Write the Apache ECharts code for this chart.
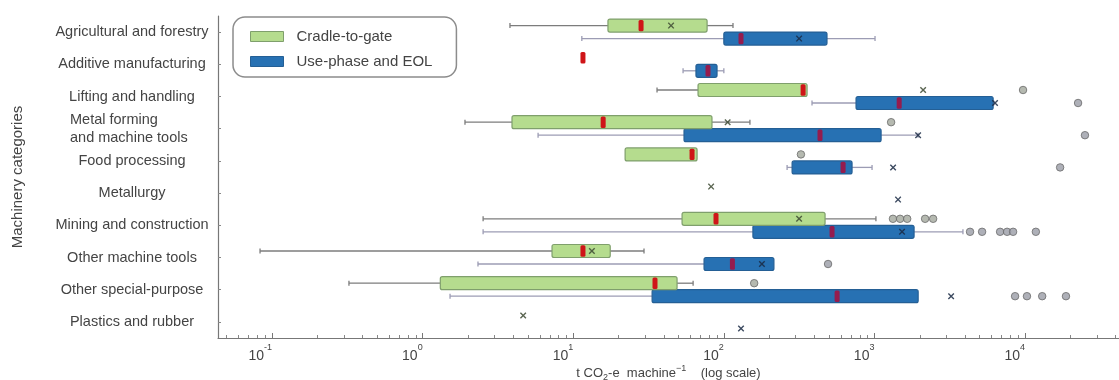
<!DOCTYPE html>
<html><head><meta charset="utf-8">
<script src="https://cdn.jsdelivr.net/npm/echarts@6/dist/echarts.min.js"></script>
<style>html,body{margin:0;padding:0;background:#fff}#c{width:1119px;height:380px}</style>
</head><body><div id="c"></div>
<script>
// ---------------- data ----------------
const categories = [
  'Agricultural and forestry', 'Additive manufacturing', 'Lifting and handling',
  'Metal forming\nand machine tools', 'Food processing', 'Metallurgy',
  'Mining and construction', 'Other machine tools', 'Other special-purpose',
  'Plastics and rubber'
];
// [whiskerLow, Q1, median, Q3, whiskerHigh]; null = no box
const cradleBox = [
  [3.8, 17.0, 28.2, 77.4, 115],
  [11.6, 11.6, 11.6, 11.6, 11.6],
  [36.0, 67.4, 336, 357, 357],
  [1.91, 3.92, 15.8, 83.4, 149],
  [22.1, 22.1, 61.5, 66.4, 66.4],
  null,
  [2.52, 52.8, 88.7, 470, 1023],
  [0.0832, 7.23, 11.6, 17.6, 29.5],
  [0.324, 1.31, 34.9, 48.9, 62.5],
  null
];
const cradleMean = [44.6, null, 2105, 106, null, 82.3, 316, 13.3, null, 4.65];
const cradleOutliers = [[], [], [9700], [1290], [325], [], [1327, 1480, 1650, 2170, 2453], [], [159], []];

const useBox = [
  [11.4, 100, 130, 484, 1009],
  [53.6, 65.3, 78.5, 90.1, 100],
  [385, 755, 1460, 6140, 6200],
  [5.84, 54.4, 435, 1107, 1950],
  [263, 284, 619, 710, 964],
  null,
  [2.52, 156, 523, 1833, 3870],
  [2.33, 73.9, 114, 215, 215],
  [1.52, 33.4, 565, 1951, 1951],
  null
];
const useMean = [316, null, 6320, 1950, 1330, 1435, 1525, 179, 3230, 130];
const useOutliers = [[], [], [22500], [25000], [17100], [], [4313, 5186, 6830, 7600, 8330, 11800], [492], [8590, 10300, 13000, 18700], []];

const tickExponents = [-1, 0, 1, 2, 3, 4];
const minorMantissas = [2, 3, 4, 5, 6, 7, 8, 9];
const axisMin = 0.04375, axisMax = 42070;

// ---------------- build ----------------
const majorTicks = tickExponents.map(e => Math.pow(10, e));
const minorTicks = [];
[-2, -1, 0, 1, 2, 3, 4].forEach(e => minorMantissas.forEach(m => {
  const v = m * Math.pow(10, e);
  if (v > axisMin && v < axisMax) minorTicks.push(v);
}));

function boxRows(arr) {
  const out = [];
  arr.forEach((b, i) => { if (b) out.push([i].concat(b)); });
  return out;
}
function meanRows(arr) {
  const out = [];
  arr.forEach((v, i) => { if (v != null) out.push([v, i]); });
  return out;
}
function outRows(arr) {
  const out = [];
  arr.forEach((l, i) => l.forEach(v => out.push([v, i])));
  return out;
}

const FONT = '"Liberation Sans", Arial, sans-serif';
const GREEN = { fill: '#b5dc8e', stroke: '#7f9f6c', whisker: '#7c7c7c', median: '#cf1518', mean: '#3d4a33', off: -6.5 };
const BLUE = { fill: '#2771b3', stroke: '#245f95', whisker: '#9c9cb4', median: '#951c4e', mean: '#1a2a44', off: 6.5 };
const BOX_H = 13;

function makeRender(st) {
  return function (params, api) {
    const cat = api.value(0);
    const y = api.coord([1, cat])[1] + st.off;
    const xs = [1, 2, 3, 4, 5].map(i => api.coord([api.value(i), cat])[0]);
    const ch = [];
    const wStyle = { stroke: st.whisker, lineWidth: 1.3 };
    if (xs[1] - xs[0] > 0.5) {
      ch.push({ type: 'line', shape: { x1: xs[0], y1: y, x2: xs[1], y2: y }, style: wStyle });
      ch.push({ type: 'line', shape: { x1: xs[0], y1: y - 2.5, x2: xs[0], y2: y + 2.5 }, style: wStyle });
    }
    if (xs[4] - xs[3] > 0.5) {
      ch.push({ type: 'line', shape: { x1: xs[3], y1: y, x2: xs[4], y2: y }, style: wStyle });
      ch.push({ type: 'line', shape: { x1: xs[4], y1: y - 2.5, x2: xs[4], y2: y + 2.5 }, style: wStyle });
    }
    if (xs[3] - xs[1] > 0.5) {
      ch.push({ type: 'rect', shape: { x: xs[1], y: y - BOX_H / 2, width: xs[3] - xs[1], height: BOX_H, r: 2 },
        style: { fill: st.fill, stroke: st.stroke, lineWidth: 1.2 } });
    }
    ch.push({ type: 'rect', shape: { x: xs[2] - 2.5, y: y - BOX_H / 2 + 0.8, width: 5, height: BOX_H - 1.6, r: 1.5 },
      style: { fill: st.median } });
    return { type: 'group', children: ch };
  };
}

const xMark = 'path://M0,1.5L1.5,0L5,3.5L8.5,0L10,1.5L6.5,5L10,8.5L8.5,10L5,6.5L1.5,10L0,8.5L3.5,5Z';

const chart = echarts.init(document.getElementById('c'), null, { renderer: 'canvas' });
chart.setOption({
  animation: false,
  backgroundColor: '#fff',
  textStyle: { fontFamily: FONT },
  grid: { left: 218, right: 0, top: 16, bottom: 42, containLabel: false, outerBoundsMode: 'none' },
  legend: {
    orient: 'vertical', left: 233, top: 17,
    padding: [12, 24, 8, 17], itemGap: 10,
    itemWidth: 33, itemHeight: 10,
    borderColor: '#8c8c8c', borderWidth: 1.5, borderRadius: 12,
    textStyle: { fontSize: 15, color: '#444', fontFamily: FONT, padding: [0, 0, 0, 8] },
    data: [
      { name: 'Cradle-to-gate', icon: 'rect', itemStyle: { color: GREEN.fill, borderColor: GREEN.stroke, borderWidth: 1 } },
      { name: 'Use-phase and EOL', icon: 'rect', itemStyle: { color: BLUE.fill, borderColor: BLUE.stroke, borderWidth: 1 } }
    ]
  },
  xAxis: [{
    type: 'log', min: axisMin, max: axisMax, position: 'bottom',
    axisLine: { show: true, lineStyle: { color: '#777', width: 1.2 } },
    axisTick: { show: true, inside: true, length: 5, customValues: majorTicks, lineStyle: { color: '#777' } },
    splitLine: { show: false }, minorTick: { show: false },
    axisLabel: {
      customValues: majorTicks, align: 'right', margin: 5, color: '#444',
      formatter: function (v) { return '{b|10}{e|' + Math.round(Math.log10(v)) + '}'; },
      rich: {
        b: { fontSize: 14, color: '#444', fontFamily: FONT, verticalAlign: 'bottom', lineHeight: 20 },
        e: { fontSize: 9, color: '#444', fontFamily: FONT, verticalAlign: 'top', lineHeight: 20 }
      }
    },
    name: '{t|t CO}{s|2}{t|-e  machine}{p|−1}{t|    (log scale)}',
    nameLocation: 'middle', nameGap: 26, nameMoveOverlap: false,
    nameTextStyle: {
      rich: {
        t: { fontSize: 13, color: '#444', fontFamily: FONT, lineHeight: 18, verticalAlign: 'middle' },
        s: { fontSize: 9, color: '#444', fontFamily: FONT, lineHeight: 18, verticalAlign: 'bottom' },
        p: { fontSize: 9, color: '#444', fontFamily: FONT, lineHeight: 18, verticalAlign: 'top' }
      }
    }
  }, {
    type: 'log', min: axisMin, max: axisMax, position: 'bottom',
    axisLine: { show: false }, splitLine: { show: false }, axisLabel: { show: false },
    axisTick: { show: true, inside: true, length: 3, customValues: minorTicks, lineStyle: { color: '#888' } }
  }],
  yAxis: {
    type: 'category', data: categories, inverse: true,
    axisLine: { show: true, lineStyle: { color: '#777', width: 1.2 } },
    axisTick: { show: true, inside: true, length: 3, alignWithLabel: true, lineStyle: { color: '#888' } },
    axisLabel: {
      align: 'center', margin: 86, fontSize: 14.5, color: '#444', fontFamily: FONT, lineHeight: 18,
      formatter: function (v) {
        return v.indexOf('\n') >= 0 ? v.split('\n').map(s => '{l|' + s + '}').join('\n') : v;
      },
      rich: { l: { width: 124, align: 'left', fontSize: 14.5, color: '#444', fontFamily: FONT, lineHeight: 18 } }
    },
    name: 'Machinery categories', nameLocation: 'middle', nameGap: 193, nameRotate: 90, nameMoveOverlap: false,
    nameTextStyle: { fontSize: 15, color: '#444', fontFamily: FONT }
  },
  series: [
    { name: 'Cradle-to-gate', type: 'custom', xAxisIndex: 0, renderItem: makeRender(GREEN),
      itemStyle: { color: GREEN.fill }, encode: { x: [1, 2, 3, 4, 5], y: 0 }, data: boxRows(cradleBox), z: 3 },
    { name: 'Use-phase and EOL', type: 'custom', xAxisIndex: 0, renderItem: makeRender(BLUE),
      itemStyle: { color: BLUE.fill }, encode: { x: [1, 2, 3, 4, 5], y: 0 }, data: boxRows(useBox), z: 2 },
    { name: 'Cradle-to-gate mean', type: 'scatter', xAxisIndex: 0, symbol: xMark, symbolSize: 6.5,
      symbolOffset: [0, GREEN.off], itemStyle: { color: GREEN.mean, opacity: 0.85 }, data: meanRows(cradleMean), z: 5 },
    { name: 'Use-phase mean', type: 'scatter', xAxisIndex: 0, symbol: xMark, symbolSize: 6.5,
      symbolOffset: [0, BLUE.off], itemStyle: { color: BLUE.mean, opacity: 0.85 }, data: meanRows(useMean), z: 5 },
    { name: 'Cradle-to-gate outliers', type: 'scatter', xAxisIndex: 0, symbol: 'circle', symbolSize: 7.5,
      symbolOffset: [0, GREEN.off], itemStyle: { color: '#a2a89c', borderColor: '#6a6a6a', borderWidth: 1 }, data: outRows(cradleOutliers), z: 4 },
    { name: 'Use-phase outliers', type: 'scatter', xAxisIndex: 0, symbol: 'circle', symbolSize: 7.5,
      symbolOffset: [0, BLUE.off], itemStyle: { color: '#9a9ca6', borderColor: '#6a6a6a', borderWidth: 1 }, data: outRows(useOutliers), z: 4 }
  ]
});
</script>
</body></html>
